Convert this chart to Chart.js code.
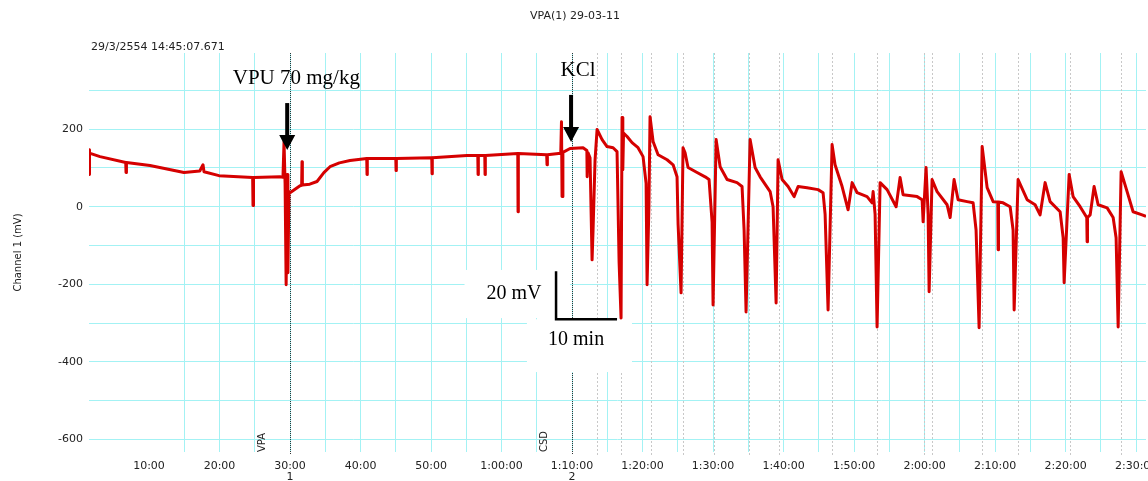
<!DOCTYPE html>
<html>
<head>
<meta charset="utf-8">
<script src="https://cdn.jsdelivr.net/npm/chart.js@4.4.0/dist/chart.umd.min.js"></script>
<style>
    html, body { margin: 0; padding: 0; background: #fff; }
</style>
</head>
<body>
<canvas id="traceChart" width="1148" height="481"></canvas>
<script>
// time (min) and channel 1 (mV)
const timeMin = [
    1.49, 1.52, 1.6, 3.05, 6.70, 6.74, 6.80, 10.14, 14.96, 17.2, 17.66, 17.8, 19.93,
    24.70, 24.75, 24.82, 28.58, 29.0, 29.15, 29.30, 29.45, 29.6, 29.7, 29.85, 30.0,
    31.42, 31.65, 31.70, 31.75, 32.8, 33.83, 34.8, 35.67, 37.0, 38.51, 40.88, 40.92, 40.96,
    45.00, 45.04, 45.08, 50.10, 50.14, 50.18, 55.11, 56.63, 56.67, 56.71,
    57.62, 57.66, 57.70, 62.30, 62.34, 62.38, 66.40, 66.45, 66.50,
    68.40, 68.50, 68.58, 68.70, 69.72, 71.56, 72.10, 72.14, 72.27, 72.55, 72.84, 72.98,
    73.26, 73.55, 74.26, 74.96, 75.82, 76.38, 76.67, 76.95, 77.09, 77.20, 77.30, 77.80,
    78.51, 79.36, 80.07, 80.50, 80.64, 80.90, 81.06, 81.49, 82.20, 83.48, 84.33, 84.89,
    85.04, 85.46, 85.74, 86.03, 86.45, 87.73, 88.87, 89.43, 89.86, 90.00, 90.43,
    91.00, 91.99, 93.40, 94.11, 94.40, 94.68, 95.25, 95.96, 96.67, 98.09, 98.51,
    98.94, 99.22, 99.79, 100.64, 101.49, 102.06, 103.33, 104.89, 105.60, 105.89,
    106.31, 106.88, 107.30, 108.30, 109.15, 109.72, 110.43, 111.84, 112.55, 112.70,
    112.98, 113.26, 113.69, 114.68, 115.96, 116.52, 116.95, 118.94, 119.65, 119.79,
    120.21, 120.50, 120.64, 121.06, 121.77, 123.19, 123.62, 124.18, 124.75, 126.03,
    126.88, 127.30, 127.73, 128.16, 128.87, 129.72, 130.38, 130.43, 130.48, 131.13,
    132.13, 132.55, 132.70, 133.26, 134.54, 135.67, 136.38, 137.09, 137.80, 139.22,
    139.65, 139.79, 140.50, 141.06, 142.06, 143.00, 143.05, 143.10, 143.48, 144.04,
    144.61, 145.89, 146.74, 147.16, 147.45, 147.87, 148.72, 149.57, 150.85, 151.4
];
const channelMv = [
    147, 83, 138, 129, 114, 88, 114, 106, 88, 92, 108, 90, 80,
    75, 3, 75, 77, 76, 168, 60, -201, 83, -170, 39, 36,
    54, 55, 116, 56, 58, 65, 88, 103, 113, 119, 124, 83, 124,
    124, 93, 124, 126, 85, 126, 132, 132, 83, 132,
    132, 83, 132, 137, -13, 137, 134, 108, 134,
    138, 219, 26, 140, 150, 152, 145, 77, 139, 126, -137, -60,
    120, 199, 173, 155, 152, 142, -142, -287, 230, 95, 190, 181,
    165, 152, 129, 60, -201, 0, 232, 168, 134, 121, 108, 77,
    -46, -222, 152, 139, 101, 88, 77, 70, -40, -253, 173,
    103, 70, 62, 52, -60, -271, 173, 101, 77, 39, 0,
    -248, 121, 70, 52, 26, 52, 49, 44, 36, -20,
    -266, 160, 108, 52, -8, 62, 36, 26, 10, 39,
    -20, -310, 62, 44, 0, 75, 31, 26, 18, -39,
    101, -20, -219, 70, 39, 5, -28, 70, 18, 13,
    10, -60, -312, 155, 49, 13, 12, -111, 12, 10,
    0, -60, -266, 70, 18, 5, -21, 62, 13, -13,
    -80, -196, 83, 26, 0, -28, -90, -28, -21, 52,
    5, -3, -28, -80, -310, 90, 39, -13, -21, -25
];

const yTickLabels = [-600, -400, -200, 0, 200];
const xTickMinutes = [10, 20, 30, 40, 50, 60, 70, 80, 90, 100, 110, 120, 130, 140, 150];
const xTickLabels = ['10:00', '20:00', '30:00', '40:00', '50:00', '1:00:00', '1:10:00',
    '1:20:00', '1:30:00', '1:40:00', '1:50:00', '2:00:00', '2:10:00', '2:20:00', '2:30:00'];

// channel comments
const eventTimes = [30, 70];
const eventNames = ['VPA', 'CSD'];
const eventNums = ['1', '2'];
const commentTimes = [73.5, 76.95, 81.2, 85.75, 90.1, 95.1, 99.4, 106.9, 113.3,
    119.9, 121.1, 128.2, 133.3, 140.6, 147.9];

const GRID = '#a3f2f4';
const SERIF = '"Liberation Serif", "Times New Roman", serif';
const SANS = '"DejaVu Sans", Verdana, sans-serif';

const overlayPlugin = {
    id: 'overlay',
    beforeDatasetsDraw(chart) {
        const { ctx, chartArea: a, scales: { x, y } } = chart;
        ctx.save();
        // grey comment lines
        ctx.strokeStyle = '#c8c8c8';
        ctx.lineWidth = 1;
        ctx.setLineDash([2, 2]);
        commentTimes.forEach(t => {
            const px = Math.round(x.getPixelForValue(t)) + 0.5;
            ctx.beginPath();
            ctx.moveTo(px, a.top);
            ctx.lineTo(px, a.bottom + 3);
            ctx.stroke();
        });
        // event lines
        ctx.strokeStyle = '#333';
        ctx.setLineDash([1, 1]);
        eventTimes.forEach(t => {
            const px = Math.round(x.getPixelForValue(t)) + 0.5;
            ctx.beginPath();
            ctx.moveTo(px, a.top);
            ctx.lineTo(px, a.bottom + 3);
            ctx.stroke();
        });
        ctx.setLineDash([]);
        // white boxes behind scale bar labels
        ctx.fillStyle = '#fff';
        const box = (t0, t1, v0, v1) => {
            const x0 = x.getPixelForValue(t0), x1 = x.getPixelForValue(t1);
            const y0 = y.getPixelForValue(v0), y1 = y.getPixelForValue(v1);
            ctx.fillRect(x0, y0, x1 - x0, y1 - y0);
        };
        box(54.75, 69.7, -163, -287);
        box(63.6, 78.5, -290, -426);
        ctx.restore();
    },
    afterDraw(chart) {
        const { ctx, chartArea: a, scales: { x, y } } = chart;
        ctx.save();

        // header
        ctx.font = '11px ' + SANS;
        ctx.fillStyle = '#222';
        ctx.textAlign = 'center';
        ctx.textBaseline = 'middle';
        ctx.fillText('VPA(1) 29-03-11', 575, 16);
        ctx.textAlign = 'left';
        ctx.fillText('29/3/2554 14:45:07.671', 91, 47);

        // comment labels
        eventTimes.forEach((t, i) => {
            const px = x.getPixelForValue(t);
            ctx.save();
            ctx.font = '10px ' + SANS;
            ctx.translate(px - 28, a.bottom);
            ctx.rotate(-Math.PI / 2);
            ctx.textAlign = 'left';
            ctx.textBaseline = 'middle';
            ctx.fillText(eventNames[i], 0, 0);
            ctx.restore();
            ctx.font = '11px ' + SANS;
            ctx.textAlign = 'center';
            ctx.fillText(eventNums[i], px, 477);
        });

        // arrows
        ctx.fillStyle = '#000';
        const arrow = (t, vTop, vTip) => {
            const px = x.getPixelForValue(t);
            const top = y.getPixelForValue(vTop), tip = y.getPixelForValue(vTip);
            ctx.fillRect(px - 2, top, 4, tip - top - 14);
            ctx.beginPath();
            ctx.moveTo(px - 8, tip - 15);
            ctx.lineTo(px + 8, tip - 15);
            ctx.lineTo(px, tip);
            ctx.closePath();
            ctx.fill();
        };
        arrow(29.6, 267, 146);
        arrow(69.86, 288, 167);

        ctx.font = '21px ' + SERIF;
        ctx.textAlign = 'center';
        ctx.textBaseline = 'middle';
        ctx.fillText('VPU 70 mg/kg', x.getPixelForValue(30.9), y.getPixelForValue(331));
        ctx.fillText('KCl', x.getPixelForValue(70.85), y.getPixelForValue(352));

        // scale bar
        ctx.strokeStyle = '#000';
        ctx.lineWidth = 2.5;
        ctx.beginPath();
        ctx.moveTo(x.getPixelForValue(67.73), y.getPixelForValue(-166));
        ctx.lineTo(x.getPixelForValue(67.73), y.getPixelForValue(-290));
        ctx.lineTo(x.getPixelForValue(76.38), y.getPixelForValue(-290));
        ctx.stroke();
        ctx.font = '20px ' + SERIF;
        ctx.fillText('20 mV', x.getPixelForValue(61.77), y.getPixelForValue(-223));
        ctx.fillText('10 min', x.getPixelForValue(70.57), y.getPixelForValue(-344));
        ctx.restore();
    }
};

function renderTraceChart() {
    const ctx = document.getElementById('traceChart').getContext('2d');
    new Chart(ctx, {
        type: 'line',
        data: {
            datasets: [{
                label: 'Channel 1',
                data: timeMin.map((t, i) => ({ x: t, y: channelMv[i] })),
                borderColor: '#d50000',
                borderWidth: 3,
                borderJoinStyle: 'round',
                pointRadius: 0,
                tension: 0,
                fill: false
            }]
        },
        options: {
            responsive: false,
            animation: false,
            layout: { padding: { top: 53, right: 2, left: 0, bottom: 0 } },
            plugins: {
                legend: { display: false },
                tooltip: { enabled: false }
            },
            scales: {
                x: {
                    type: 'linear',
                    min: 1.49,
                    max: 151.4,
                    afterFit: s => {
                        s.height = 29;
                        s.paddingLeft = 0;
                        s.paddingRight = 0;
                    },
                    border: { display: false },
                    grid: {
                        drawTicks: false,
                        color: c => (c.tick && c.tick.value < 15) ? 'rgba(0,0,0,0)' : GRID
                    },
                    ticks: {
                        stepSize: 5,
                        includeBounds: false,
                        autoSkip: false,
                        maxRotation: 0,
                        padding: 8,
                        color: '#222',
                        font: { family: SANS, size: 11 },
                        callback: v => {
                            const i = xTickMinutes.indexOf(v);
                            return i >= 0 ? xTickLabels[i] : '';
                        }
                    }
                },
                y: {
                    min: -632,
                    max: 396,
                    afterFit: s => {
                        s.width = 89;
                        s.paddingTop = 0;
                        s.paddingBottom = 0;
                    },
                    border: { display: false },
                    grid: { drawTicks: false, color: GRID },
                    title: {
                        display: true,
                        text: 'Channel 1 (mV)',
                        color: '#222',
                        font: { family: SANS, size: 10 },
                        padding: { top: 12, bottom: 0 }
                    },
                    ticks: {
                        stepSize: 100,
                        includeBounds: false,
                        padding: 6,
                        color: '#222',
                        font: { family: SANS, size: 11 },
                        callback: v => yTickLabels.includes(v) ? String(v) : ''
                    }
                }
            }
        },
        plugins: [overlayPlugin]
    });
}

document.addEventListener('DOMContentLoaded', renderTraceChart);
</script>
</body>
</html>
